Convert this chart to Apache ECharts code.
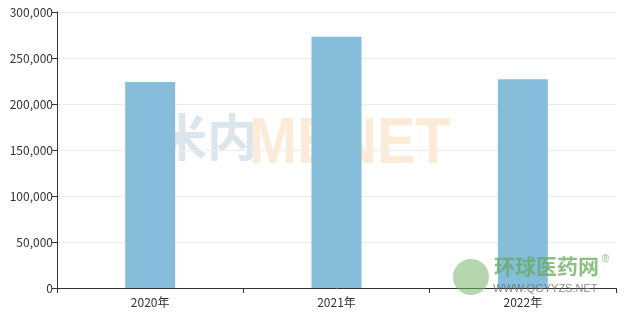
<!DOCTYPE html>
<html>
<head>
<meta charset="utf-8">
<script src="https://cdn.jsdelivr.net/npm/echarts@6/dist/echarts.min.js"></script>
<style>html,body{margin:0;padding:0;background:#fff;}#c{width:625px;height:312px;}</style>
</head>
<body>
<div id="c"></div>
<script>
const categories = ['2020年', '2021年', '2022年'];
const values = [224000, 273000, 227000];
const yTicks = [0, 50000, 100000, 150000, 200000, 250000, 300000];

const chart = echarts.init(document.getElementById('c'), null, {renderer: 'canvas'});
const font = '"Noto Sans CJK SC", "Microsoft YaHei", sans-serif';
chart.setOption({
  animation: false,
  backgroundColor: '#fff',
  grid: {left: 57, right: 9, top: 12, bottom: 24, containLabel: false},
  graphic: [
    {type: 'text', x: 157, y: 112, z: -10, silent: true,
     style: {text: '米内', fill: '#dbe5ec', font: 'bold 50px "Noto Sans CJK SC", sans-serif'}},
    {type: 'text', x: 249, y: 113, scaleX: 0.9, z: -10, silent: true,
     style: {text: 'MENET', fill: '#fdebda', font: 'bold 64px "Liberation Sans", Arial, sans-serif'}},
    {type: 'circle', shape: {cx: 471, cy: 277, r: 18}, z: 100, silent: true,
     style: {fill: 'rgba(120,180,110,0.55)'}},
    {type: 'text', x: 494, y: 256, z: 100, silent: true,
     style: {text: '环球医药网', fill: 'rgba(100,170,90,0.75)', font: 'bold 21px "Noto Sans CJK SC", sans-serif'}},
    {type: 'text', x: 602, y: 254, z: 100, silent: true,
     style: {text: '®', fill: 'rgba(100,170,90,0.75)', font: '10px sans-serif'}},
    {type: 'text', x: 493, y: 283, z: 100, silent: true,
     style: {text: 'WWW.QGYYZS.NET', fill: 'rgba(110,110,110,0.8)', font: '11px "Liberation Sans", Arial, sans-serif'}}
  ],
  xAxis: {
    type: 'category',
    data: categories,
    axisLine: {lineStyle: {color: '#333', width: 1}},
    axisTick: {show: true, length: 5, lineStyle: {color: '#333'}},
    axisLabel: {color: '#333', fontSize: 12, fontFamily: font, margin: 8}
  },
  yAxis: {
    type: 'value',
    min: yTicks[0],
    max: yTicks[yTicks.length - 1],
    interval: yTicks[1] - yTicks[0],
    axisLine: {show: true, lineStyle: {color: '#333', width: 1}},
    axisTick: {show: true, length: 5, lineStyle: {color: '#333'}},
    splitLine: {show: true, lineStyle: {color: '#ececec', width: 1}},
    axisLabel: {
      color: '#333', fontSize: 12, fontFamily: font, margin: 4,
      formatter: v => v.toLocaleString('en-US')
    }
  },
  series: [{
    type: 'bar',
    data: values,
    barWidth: 50,
    itemStyle: {color: '#86bddb'}
  }]
});
</script>
</body>
</html>
